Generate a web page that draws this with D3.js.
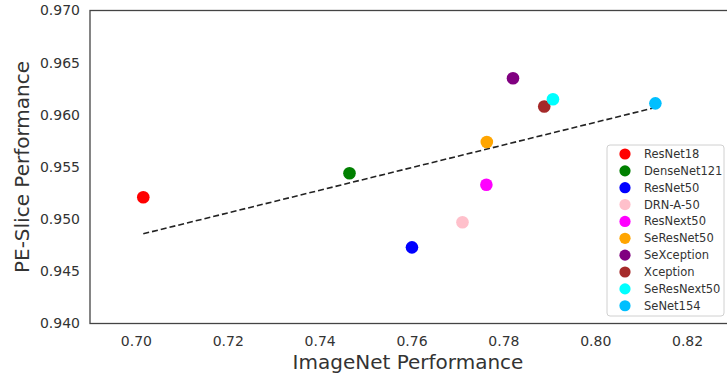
<!DOCTYPE html>
<html>
<head>
<meta charset="utf-8">
<script src="https://cdn.jsdelivr.net/npm/d3@7"></script>
<style>
  body { margin: 0; background: #fff; }
  svg { display: block; font-family: "DejaVu Sans", sans-serif; }
</style>
</head>
<body>
<div id="chart"></div>
<script>
// models, ImageNet accuracy, PE-Slice accuracy
const models = ["ResNet18", "DenseNet121", "ResNet50", "DRN-A-50", "ResNext50",
                "SeResNet50", "SeXception", "Xception", "SeResNext50", "SeNet154"];
const imagenet = [0.7016, 0.7465, 0.7601, 0.7711, 0.7763, 0.7764, 0.7821, 0.7889, 0.7908, 0.8131];
const peSlice = [0.9521, 0.9544, 0.9473, 0.9497, 0.9533, 0.9574, 0.9635, 0.9608, 0.9615, 0.9611];
const colors = ["red", "green", "blue", "pink", "magenta", "orange", "purple", "brown", "cyan", "deepskyblue"];

// trend line ends
const trendX = [0.7016, 0.8131];
const trendY = [0.9486, 0.9607];

const xTicks = [0.70, 0.72, 0.74, 0.76, 0.78, 0.80, 0.82];
const yTicks = [0.940, 0.945, 0.950, 0.955, 0.960, 0.965, 0.970];

const W = 727, H = 375;
const margin = {top: 10.5, right: -6, bottom: 51.5, left: 90};
const width = W - margin.left - margin.right,
      height = H - margin.top - margin.bottom;

const svg = d3.select("#chart").append("svg")
    .attr("width", W)
    .attr("height", H);

const g = svg.append("g")
    .attr("transform", "translate(" + margin.left + "," + margin.top + ")");

const x = d3.scaleLinear().domain([0.69, 0.83]).range([0, width]);
const y = d3.scaleLinear().domain([0.940, 0.970]).range([height, 0]);

// tick labels (no tick marks)
const axisX = g.append("g")
    .attr("transform", "translate(0," + height + ")")
    .call(d3.axisBottom(x).tickValues(xTicks).tickFormat(d3.format(".2f")).tickSize(0).tickPadding(13));
const axisY = g.append("g")
    .call(d3.axisLeft(y).tickValues(yTicks).tickFormat(d3.format(".3f")).tickSize(0).tickPadding(10));

[axisX, axisY].forEach(a => {
    a.select(".domain").remove();
    a.selectAll("text")
        .style("font-family", "DejaVu Sans")
        .style("font-size", "14px")
        .style("fill", "#333");
});

// frame
g.append("rect")
    .attr("x", 0).attr("y", 0)
    .attr("width", width).attr("height", height)
    .attr("fill", "none")
    .attr("stroke", "#444")
    .attr("stroke-width", 1.3);

// dashed trend line
const line = d3.line()
    .x(d => x(d[0]))
    .y(d => y(d[1]));
g.append("path")
    .datum(d3.zip(trendX, trendY))
    .attr("fill", "none")
    .attr("stroke", "#222")
    .attr("stroke-width", 1.6)
    .attr("stroke-dasharray", "6,3")
    .attr("d", line);

// points
g.selectAll("circle.pt")
    .data(models)
    .enter().append("circle")
    .attr("class", "pt")
    .attr("cx", (d, i) => x(imagenet[i]))
    .attr("cy", (d, i) => y(peSlice[i]))
    .attr("r", 6.3)
    .attr("fill", (d, i) => colors[i]);

// axis titles
svg.append("text")
    .attr("x", 408)
    .attr("y", 369)
    .attr("text-anchor", "middle")
    .style("font-size", "20px")
    .style("fill", "#333")
    .text("ImageNet Performance");

svg.append("text")
    .attr("transform", "translate(29,167) rotate(-90)")
    .attr("text-anchor", "middle")
    .style("font-size", "20px")
    .style("fill", "#333")
    .text("PE-Slice Performance");

// legend
const legend = svg.append("g").attr("transform", "translate(607,145)");
legend.append("rect")
    .attr("width", 117).attr("height", 171)
    .attr("rx", 3)
    .attr("fill", "#fff")
    .attr("fill-opacity", 0.85)
    .attr("stroke", "#d0d0d0");

const item = legend.selectAll("g.item")
    .data(models)
    .enter().append("g")
    .attr("class", "item")
    .attr("transform", (d, i) => "translate(0," + (9 + i * 16.86) + ")");
item.append("circle")
    .attr("cx", 18)
    .attr("r", 5.6)
    .attr("fill", (d, i) => colors[i]);
item.append("text")
    .attr("x", 37)
    .attr("dy", "0.35em")
    .style("font-size", "11.5px")
    .style("fill", "#333")
    .text(d => d);
</script>
</body>
</html>
